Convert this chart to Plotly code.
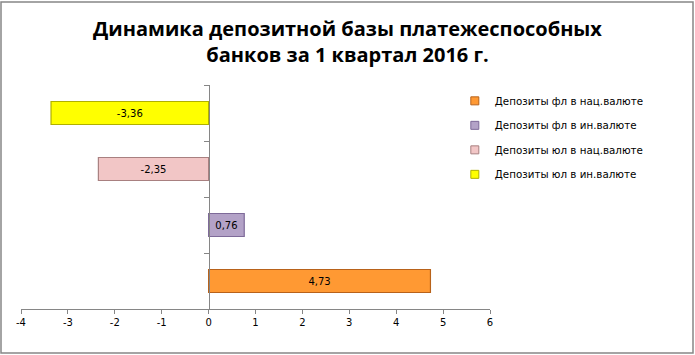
import plotly.graph_objects as go

series_names = ["Депозиты фл в нац.валюте", "Депозиты фл в ин.валюте",
                "Депозиты юл в нац.валюте", "Депозиты юл в ин.валюте"]
values = [4.73, 0.76, -2.35, -3.36]
categories = ["c1", "c2", "c3", "c4"]
fill_colors = ["#FF9933", "#B3A2C7", "#F2C6C6", "#FFFF00"]
line_colors = ["#B8621A", "#7E6A99", "#A88080", "#B0B000"]
x_ticks = [-4, -3, -2, -1, 0, 1, 2, 3, 4, 5, 6]

fig = go.Figure()
for i, name in enumerate(series_names):
    fig.add_trace(go.Bar(
        y=[categories[i]], x=[values[i]], orientation="h", name=name,
        marker=dict(color=fill_colors[i], line=dict(color=line_colors[i], width=1.2)),
        text=[f"{values[i]:.2f}".replace(".", ",")], textposition="inside",
        insidetextanchor="middle",
        textfont=dict(family="DejaVu Sans", size=10, color="#000000"),
        width=0.41, showlegend=False,
    ))
for i, name in enumerate(series_names):
    fig.add_trace(go.Scatter(
        x=[None], y=[None], mode="markers", name=name,
        marker=dict(symbol="square", size=8, color=fill_colors[i],
                    line=dict(color=line_colors[i], width=1)),
        legendgroup=f"g{i}", showlegend=True,
    ))

fig.update_layout(
    width=695, height=355,
    margin=dict(l=21, r=205, t=85, b=46),
    paper_bgcolor="white", plot_bgcolor="white",
    barmode="overlay",
    showlegend=True,
    title=dict(text="Динамика депозитной базы платежеспособных<br>банков за 1 квартал 2016 г.",
               x=0.5, xref="container", y=0.9, yref="container", yanchor="middle",
               font=dict(family="Open Sans", size=20, color="#000000", weight="bold")),
    legend=dict(x=0.925, y=0.994, xanchor="left", yanchor="top", itemwidth=30,
                font=dict(family="DejaVu Sans", size=10.3, color="#000000"),
                traceorder="grouped", tracegroupgap=5.5, bgcolor="rgba(0,0,0,0)"),
    xaxis=dict(range=[-4, 6], tickvals=x_ticks,
               ticktext=[str(v) for v in x_ticks],
               showgrid=False, zeroline=False, showline=True, linecolor="#868686",
               linewidth=1, ticks="outside", ticklen=4, tickcolor="#868686",
               tickfont=dict(family="DejaVu Sans", size=10, color="#000000"),
               fixedrange=True),
    yaxis=dict(categoryorder="array", categoryarray=categories,
               showticklabels=False, showgrid=False, zeroline=False,
               showline=True, linecolor="#868686", linewidth=1,
               ticks="outside", ticklen=5, tickcolor="#868686", tickson="boundaries",
               anchor="free", position=0.4, range=[-0.5, 3.5]),
    shapes=[dict(type="rect", xref="paper", yref="paper",
                 x0=-20/469, x1=672/469, y0=-44/224, y1=307/224,
                 line=dict(color="#868686", width=1.5), fillcolor="rgba(0,0,0,0)",
                 layer="below")],
)

fig.write_html("out.html")
